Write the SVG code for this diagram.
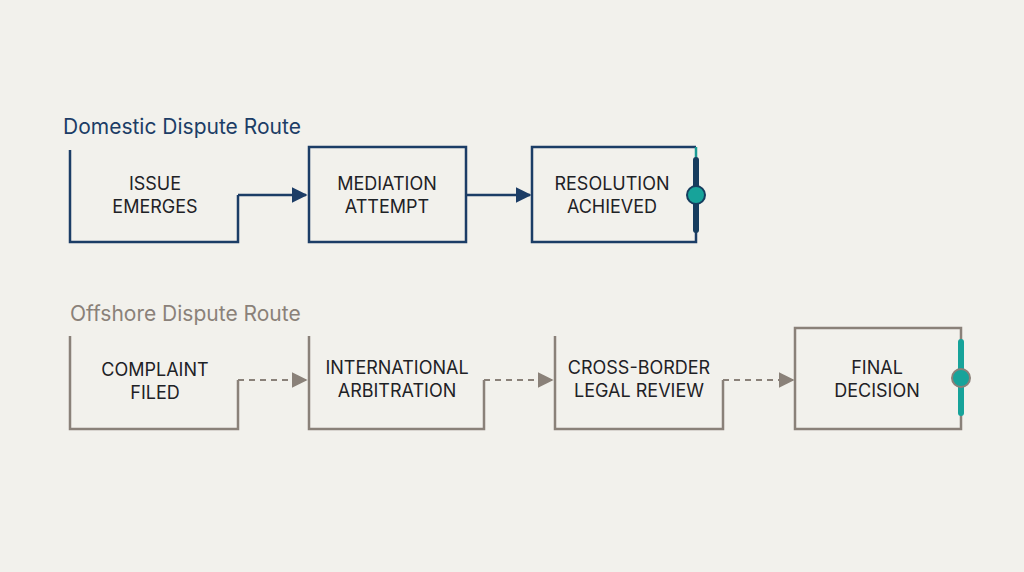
<svg xmlns="http://www.w3.org/2000/svg" width="1024" height="572" viewBox="0 0 1024 572">
<defs>
<style>
.t{font-family:"Inter","Liberation Sans",sans-serif;font-size:18px;fill:#1e2226;text-anchor:middle}
.h{font-family:"Inter","Liberation Sans",sans-serif;font-size:21px}
.n{fill:none;stroke:#1c3d66;stroke-width:2.5}
.g{fill:none;stroke:#8a8179;stroke-width:2.5}
.gd{fill:none;stroke:#8a8179;stroke-width:2;stroke-dasharray:6 5}
</style>
<marker id="an" viewBox="0 0 10 10" refX="9" refY="5" markerWidth="16" markerHeight="16" markerUnits="userSpaceOnUse" orient="auto"><path d="M0,0L10,5L0,10z" fill="#1c3d66"/></marker>
<marker id="ag" viewBox="0 0 10 10" refX="9" refY="5" markerWidth="16" markerHeight="16" markerUnits="userSpaceOnUse" orient="auto"><path d="M0,0L10,5L0,10z" fill="#8a8179"/></marker>
</defs>
<rect width="1024" height="572" fill="#f2f1ec"/>
<text x="63" y="134" class="h" fill="#1c3d66">Domestic Dispute Route</text>
<text x="70" y="321" class="h" fill="#8a8179">Offshore Dispute Route</text>
<g id="issue"><path class="n" d="M70,150V242H238V195"/><text class="t" x="155" y="190">ISSUE</text><text class="t" x="155" y="213">EMERGES</text></g>
<g id="mediation"><rect class="n" x="309" y="147" width="157" height="95"/><text class="t" x="387" y="190">MEDIATION</text><text class="t" x="387" y="213">ATTEMPT</text></g>
<g id="resolution"><path class="n" d="M696,158V242H532V147H696"/><path d="M696,147V158" stroke="#1a9a94" stroke-width="2.5"/><path d="M696,160V230" stroke="#163d5e" stroke-width="6" stroke-linecap="round"/><circle cx="696" cy="195" r="9" fill="#17a39a" stroke="#163d5e" stroke-width="2"/><text class="t" x="612" y="190">RESOLUTION</text><text class="t" x="612" y="213">ACHIEVED</text></g>
<g id="complaint"><path class="g" d="M70,336V429H238V380"/><text class="t" x="155" y="376">COMPLAINT</text><text class="t" x="155" y="399">FILED</text></g>
<g id="arbitration"><path class="g" d="M309,336V429H484V380"/><text class="t" x="397" y="374">INTERNATIONAL</text><text class="t" x="397" y="397">ARBITRATION</text></g>
<g id="review"><path class="g" d="M555,336V429H723V380"/><text class="t" x="639" y="374">CROSS-BORDER</text><text class="t" x="639" y="397">LEGAL REVIEW</text></g>
<g id="final"><rect class="g" x="795" y="328" width="166" height="101"/><path d="M961,342V413" stroke="#17a39a" stroke-width="6" stroke-linecap="round"/><circle cx="961" cy="378" r="9" fill="#17a39a" stroke="#8a8179" stroke-width="2"/><text class="t" x="877" y="374">FINAL</text><text class="t" x="877" y="397">DECISION</text></g>
<g id="connectors">
<path class="n" d="M238,195H306" marker-end="url(#an)"/>
<path class="n" d="M466,195H530" marker-end="url(#an)"/>
<path class="gd" d="M238,380H306" marker-end="url(#ag)"/>
<path class="gd" d="M484,380H552" marker-end="url(#ag)"/>
<path class="gd" d="M723,380H793" marker-end="url(#ag)"/>
</g>
</svg>
